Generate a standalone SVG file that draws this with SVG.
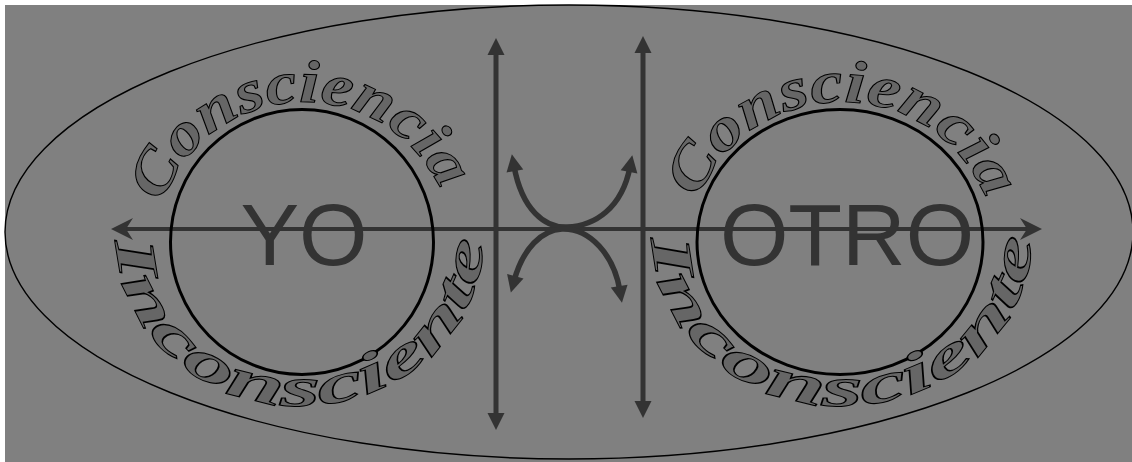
<svg xmlns="http://www.w3.org/2000/svg" width="1132" height="462" viewBox="0 0 1132 462">
<style>
.arc{font-family:"Liberation Serif",serif;font-style:italic;font-weight:bold;fill:#666;stroke:#000;stroke-width:1}
.big{font-family:"Liberation Sans",Arial,sans-serif;fill:#333;font-size:88px}
.ln{stroke:#333;fill:none}
.ring{fill:none;stroke:#000;stroke-width:3}
</style>
<defs>
<marker id="barb" markerUnits="userSpaceOnUse" orient="auto-start-reverse" overflow="visible" refX="0" refY="0" markerWidth="1" markerHeight="1">
<path d="M6,0 L-16,-11 L-9,0 L-16,11 Z" fill="#333"/>
</marker>
<marker id="tri" markerUnits="userSpaceOnUse" orient="auto-start-reverse" overflow="visible" refX="0" refY="0" markerWidth="1" markerHeight="1">
<path d="M12,0 L-5,-8.5 L-5,8.5 Z" fill="#333"/>
</marker>
<path id="yoTop" d="M154,252 A150,150 0 0 1 454,252"/>
<path id="yoBot" d="M116,236 A184,170 0 0 0 484,236"/>
<path id="otTop" d="M688,252 A154,150 0 0 1 996,252"/>
<path id="otBot" d="M652,236 A190,170 0 0 0 1032,236"/>
</defs>
<rect x="5" y="5" width="1127" height="457" fill="#808080"/>
<g id="outer">
<ellipse cx="569" cy="232" rx="564" ry="227" fill="none" stroke="#000" stroke-width="1.4"/>
</g>
<g id="connectors">
<line class="ln" x1="117" y1="229" x2="1036" y2="229" stroke-width="4" marker-start="url(#barb)" marker-end="url(#barb)"/>
<line class="ln" x1="496" y1="50" x2="496" y2="418" stroke-width="5" marker-start="url(#tri)" marker-end="url(#tri)"/>
<line class="ln" x1="643" y1="48" x2="643" y2="406" stroke-width="5" marker-start="url(#tri)" marker-end="url(#tri)"/>
<path class="ln" d="M514,166 C522,210 545,228 567,227 C595,226 622,208 630,167" stroke-width="5.5" marker-start="url(#tri)" marker-end="url(#tri)"/>
<path class="ln" d="M514,281 C523,248 542,230 562,229 C590,228 614,255 620,291" stroke-width="5.5" marker-start="url(#tri)" marker-end="url(#tri)"/>
</g>
<g id="yo">
<ellipse class="ring" cx="302" cy="242" rx="131.5" ry="132.5"/>
<text class="big" x="304" y="265" text-anchor="middle">YO</text>
<text class="arc" font-size="60"><textPath href="#yoTop" startOffset="48.5%" text-anchor="middle" textLength="358" lengthAdjust="spacingAndGlyphs">Consciencia</textPath></text>
<text class="arc" font-size="56"><textPath href="#yoBot" startOffset="50%" text-anchor="middle" textLength="545" lengthAdjust="spacingAndGlyphs">Inconsciente</textPath></text>
</g>
<g id="otro">
<ellipse class="ring" cx="840" cy="242" rx="143" ry="132.5"/>
<text class="big" x="847" y="265" text-anchor="middle">OTRO</text>
<text class="arc" font-size="60"><textPath href="#otTop" startOffset="50%" text-anchor="middle" textLength="370" lengthAdjust="spacingAndGlyphs">Consciencia</textPath></text>
<text class="arc" font-size="56"><textPath href="#otBot" startOffset="50%" text-anchor="middle" textLength="560" lengthAdjust="spacingAndGlyphs">Inconsciente</textPath></text>
</g>
</svg>
